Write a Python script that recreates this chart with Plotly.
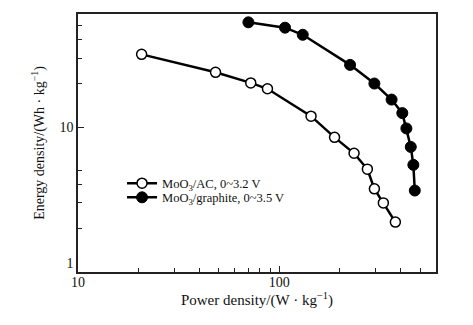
import plotly.graph_objects as go

ac_power = [20.7, 48.2, 72.1, 87.3, 143.7, 188, 235, 273.6, 296.5, 328.5, 376.9]
ac_energy = [31.8, 23.9, 20.2, 18.4, 11.9, 8.5, 6.6, 5.13, 3.75, 3.0, 2.21]

gr_power = [70.2, 106.7, 130.7, 224.5, 296.5, 360.9, 408, 427.5, 449.5, 463, 470.6]
gr_energy = [52.9, 48.6, 43.4, 26.9, 20.0, 15.5, 12.5, 9.8, 7.3, 5.49, 3.65]

x_tickvals = [10, 100]
x_ticktext = ["10", "100"]
y_tickvals = [1, 10]
y_ticktext = ["1<br> ", "10"]
y_minor = [2, 3, 4, 5, 20, 30, 40, 50]
x_minor = [20, 30, 40, 50, 60, 70, 80, 90, 200, 300, 400, 500]

FONT = "Liberation Serif"

fig = go.Figure()
fig.add_trace(go.Scatter(
    x=ac_power, y=ac_energy, mode="lines+markers",
    name="MoO<sub>3</sub>/AC, 0~3.2 V", legend="legend",
    line=dict(color="black", width=2.5),
    marker=dict(symbol="circle", size=10, color="white", line=dict(color="black", width=1.5)),
))
fig.add_trace(go.Scatter(
    x=gr_power, y=gr_energy, mode="lines+markers",
    name="MoO<sub>3</sub>/graphite, 0~3.5 V", legend="legend2",
    line=dict(color="black", width=2.5),
    marker=dict(symbol="circle", size=11, color="black", line=dict(color="black", width=1)),
))

axis_common = dict(
    type="log", showline=True, linecolor="#222", linewidth=1.5, mirror=True,
    showgrid=False, zeroline=False, ticks="inside", ticklen=6, tickwidth=1.2,
    tickcolor="#222", tickfont=dict(family=FONT, size=14, color="#111"),
)

leg_common = dict(
    xanchor="left", yanchor="middle", bgcolor="rgba(0,0,0,0)",
    font=dict(family=FONT, size=12.5, color="#111"), itemwidth=30,
)

# page body has an 8px margin, so offsets compensate
fig.update_layout(
    width=473, height=325,
    margin=dict(l=70, r=45, t=4, b=61),
    paper_bgcolor="white", plot_bgcolor="white",
    font=dict(family=FONT, size=14, color="#111"),
    showlegend=True,
    legend=dict(**leg_common, x=0.123, y=0.343),
    legend2=dict(**leg_common, x=0.123, y=0.288),
    xaxis=dict(
        **axis_common, range=[1, 2.778],
        tickmode="array", tickvals=x_tickvals, ticktext=x_ticktext,
        ticklabelstandoff=-4,
        minor=dict(tickmode="array", tickvals=x_minor, ticks="inside", ticklen=4,
                   tickwidth=1, tickcolor="#222", showgrid=False),
        title=dict(text="Power density/(W · kg<sup>−1</sup>)", font=dict(family=FONT, size=15), standoff=0),
    ),
    yaxis=dict(
        **axis_common, range=[0, 1.781],
        tickmode="array", tickvals=y_tickvals, ticktext=y_ticktext,
        minor=dict(tickmode="array", tickvals=y_minor, ticks="inside", ticklen=4,
                   tickwidth=1, tickcolor="#222", showgrid=False),
        title=dict(text="Energy density/(Wh · kg<sup>−1</sup>)", font=dict(family=FONT, size=14), standoff=12),
    ),
)

fig.write_html("out.html")
